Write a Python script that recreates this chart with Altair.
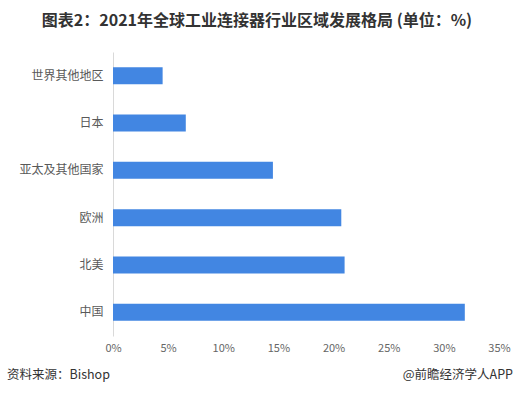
import altair as alt
import pandas as pd

# Regional share of the global industrial connector market, 2021 (%)
regions = ["世界其他地区", "日本", "亚太及其他国家", "欧洲", "北美", "中国"]
shares = [4.5, 6.6, 14.5, 20.7, 21.0, 31.9]
x_ticks = [0, 5, 10, 15, 20, 25, 30, 35]

title_text = "图表2：2021年全球工业连接器行业区域发展格局 (单位：%)"
source_text = "资料来源：Bishop"
brand_text = "@前瞻经济学人APP"

FONT = "Noto Sans CJK SC"
W, H = 386, 284
PAD = {"left": 113, "top": 52, "right": 15, "bottom": 59}

df = pd.DataFrame({"region": regions, "share": shares})

bars = alt.Chart(df).mark_bar(color="#4286e2").encode(
    x=alt.X(
        "share:Q",
        scale=alt.Scale(domain=[0, 35], nice=False),
        axis=alt.Axis(
            values=x_ticks,
            labelExpr="datum.value + '%'",
            title=None,
            grid=False,
            ticks=False,
            domain=False,
            labelFlush=False,
            labelFont=FONT,
            labelFontSize=11,
            labelColor="#666666",
            labelPadding=6,
        ),
    ),
    y=alt.Y(
        "region:N",
        sort=regions,
        scale=alt.Scale(paddingInner=0.64, paddingOuter=0.32),
        axis=alt.Axis(
            title=None,
            ticks=False,
            grid=False,
            domainColor="#d9d9d9",
            domainWidth=1,
            labelFont=FONT,
            labelFontSize=12,
            labelColor="#595959",
            labelPadding=10,
        ),
    ),
)

title = alt.Chart(pd.DataFrame({"t": [title_text]})).mark_text(
    font=FONT, fontSize=16, fontWeight="bold", color="#333333",
    align="center", baseline="middle",
).encode(
    text="t:N",
    x=alt.value(257 - PAD["left"]),
    y=alt.value(21 - PAD["top"]),
)

source = alt.Chart(pd.DataFrame({"t": [source_text]})).mark_text(
    font=FONT, fontSize=12.5, color="#333333",
    align="left", baseline="middle",
).encode(
    text="t:N",
    x=alt.value(7 - PAD["left"]),
    y=alt.value(375 - PAD["top"]),
)

brand = alt.Chart(pd.DataFrame({"t": [brand_text]})).mark_text(
    font=FONT, fontSize=12.5, color="#333333",
    align="right", baseline="middle",
).encode(
    text="t:N",
    x=alt.value(513 - PAD["left"]),
    y=alt.value(375 - PAD["top"]),
)

chart = (
    alt.layer(bars, title, source, brand)
    .properties(
        width=W,
        height=H,
        autosize=alt.AutoSizeParams(type="none"),
        padding=PAD,
        background="white",
    )
    .configure_view(stroke=None)
)

chart.save("out.html", embed_options={"renderer": "svg", "actions": False})
